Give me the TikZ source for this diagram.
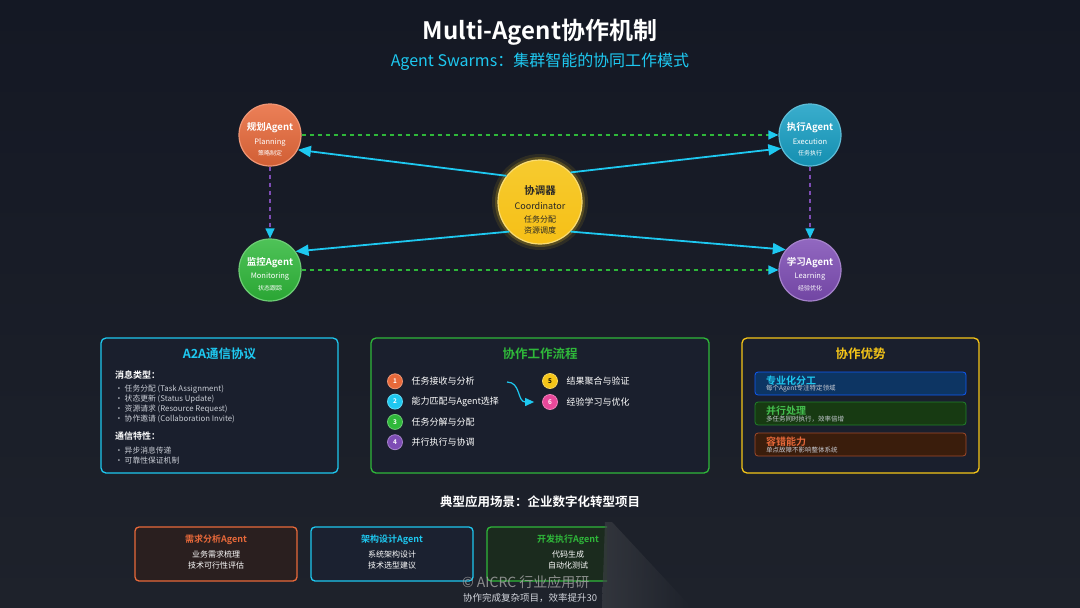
\documentclass[tikz,border=0pt]{standalone}
\usepackage{fontspec}
\setmainfont{Noto Sans CJK SC}[BoldFont={Noto Sans CJK SC Bold}]
\usetikzlibrary{arrows.meta,positioning}

\definecolor{bgtop}{HTML}{141824}
\definecolor{bgbot}{HTML}{1E222B}
\definecolor{panel}{HTML}{1A1F2D}
\definecolor{cyanA}{HTML}{1EC8F0}
\definecolor{tealA}{HTML}{179FC4}
\definecolor{orangeA}{HTML}{E8693A}
\definecolor{greenA}{HTML}{2FB83A}
\definecolor{purpleA}{HTML}{7E4DB5}
\definecolor{yellowA}{HTML}{F5C518}
\definecolor{pinkA}{HTML}{E8489A}
\definecolor{softtext}{HTML}{C9CDD5}
\definecolor{advblue}{HTML}{0D3563}
\definecolor{advgreen}{HTML}{173A12}
\definecolor{advbrown}{HTML}{3A1D0C}
\definecolor{usebrown}{HTML}{2A1F1F}
\definecolor{useblue}{HTML}{1B2130}
\definecolor{usegreen}{HTML}{1B2B1E}

\newcommand{\fsz}[2]{\fontsize{#1}{#2}\selectfont}
\newcommand{\AgentSize}{62pt}

\tikzset{
	agent/.style={circle, minimum size=\AgentSize, inner sep=0pt, draw=#1!70!white, line width=1.2pt, top color=#1!85!white, bottom color=#1!90!black},
	agtitle/.style={text=white, font=\fsz{9.5}{11}\bfseries, inner sep=0pt},
	agsub/.style={text=white, font=\fsz{7.5}{9}, inner sep=0pt},
	agnote/.style={text=white, font=\fsz{6}{7}, inner sep=0pt},
	link/.style={cyanA, line width=1.8pt, -{Triangle[length=13pt,width=11pt]}},
	peer/.style={draw=#1, line width=1.2pt, dash pattern=on 4pt off 4pt, -{Triangle[length=10pt,width=9pt,color=cyanA]}},
	panelbox/.style={draw=#1, line width=1.3pt, rounded corners=5pt, fill=panel, minimum height=135pt, inner sep=0pt},
	pantitle/.style={font=\fsz{12.5}{15}\bfseries, inner sep=0pt},
	headline/.style={anchor=west, text=white, font=\fsz{9}{11}\bfseries, inner sep=0pt},
	bullet/.style={anchor=west, text=softtext, font=\fsz{7.8}{9}, inner sep=0pt},
	stepdot/.style={circle, minimum size=15pt, inner sep=0pt, fill=#1, draw=#1!70!white, line width=.8pt, text=white, font=\fsz{6.5}{7}\bfseries},
	steptext/.style={text=white, font=\fsz{9}{11}, inner sep=0pt},
	advbox/.style 2 args={rounded corners=3pt, fill=#1, draw=#2, line width=.8pt, minimum width=211pt, minimum height=23pt, inner sep=0pt},
	advtitle/.style={anchor=west, font=\fsz{10}{12}\bfseries, inner sep=0pt},
	advnote/.style={anchor=west, text=softtext, font=\fsz{6.5}{7}, inner sep=0pt},
	usebox/.style 2 args={rounded corners=4pt, draw=#1, fill=#2, line width=1.3pt, minimum width=162pt, minimum height=54pt, inner sep=0pt},
	usetitle/.style={font=\fsz{9}{11}\bfseries, inner sep=0pt},
	usetext/.style={text=white, font=\fsz{8}{11}, align=center, inner sep=0pt}
}

\begin{document}
\begin{tikzpicture}[x=1pt,y=-1pt]
	\useasboundingbox (0,0) rectangle (1080,608);
	\shade[top color=bgtop, bottom color=bgbot] (0,0) rectangle (1080,608);

	\node[text=white, font=\fsz{24}{28}\bfseries] (title) at (540,32) {Multi-Agent协作机制};
	\node[text=cyanA, font=\fsz{16}{18}] (subtitle) at (540,62) {Agent Swarms：集群智能的协同工作模式};

	\fill[yellowA, opacity=.1] (540,202) circle (48pt);
	\fill[yellowA, opacity=.22] (540,202) circle (45pt);
	\node[circle, minimum size=84pt, inner sep=0pt, top color=yellowA!90!white, bottom color=yellowA!92!orange, draw=yellowA!60!white, line width=1.2pt] (coord) at (540,202) {};
	\node[text=black!85, font=\fsz{10.5}{12}\bfseries, inner sep=0pt] at ([yshift=11pt]coord.center) {协调器};
	\node[text=black!85, font=\fsz{9}{10}, inner sep=0pt] at ([yshift=-4pt]coord.center) {Coordinator};
	\node[text=black!85, font=\fsz{8}{11}, align=center, inner sep=0pt] at ([yshift=-23pt]coord.center) {任务分配\\资源调度};

	\foreach \nm/\cl/\px/\py/\ttl/\en/\cn in {plan/orangeA/270/135/规划Agent/Planning/策略制定, exec/tealA/810/135/执行Agent/Execution/任务执行, mon/greenA/270/270/监控Agent/Monitoring/状态跟踪, learn/purpleA/810/270/学习Agent/Learning/经验优化} {
		\node[agent=\cl] (\nm) at (\px,\py) {};
		\node[agtitle] at ([yshift=7pt]\nm.center) {\ttl};
		\node[agsub] at ([yshift=-7pt]\nm.center) {\en};
		\node[agnote] at ([yshift=-18pt]\nm.center) {\cn};
	}

	\draw[peer=greenA] (plan) -- (exec);
	\draw[peer=greenA] (mon) -- (learn);
	\draw[peer=purpleA] (plan) -- (mon);
	\draw[peer=purpleA] (exec) -- (learn);
	\draw[link] (coord.142) -- (plan.-28);
	\draw[link] (coord.44) -- (exec.205);
	\draw[link] (coord.224) -- (mon.36);
	\draw[link] (coord.316) -- (learn.140);

	\node[panelbox=cyanA, minimum width=237pt] (proto) at (219.5,405.5) {};
	\node[pantitle, text=cyanA] at (219.5,354) {A2A通信协议};
	\node[headline] (msgtype) at (115,375) {消息类型：};
	\foreach \ln [count=\i] in {任务分配 (Task Assignment), 状态更新 (Status Update), 资源请求 (Resource Request), 协作邀请 (Collaboration Invite)}
		\node[bullet] at (115,379+10*\i) {• \ln};
	\node[headline] (feature) at (115,436) {通信特性：};
	\foreach \ln [count=\i] in {异步消息传递, 可靠性保证机制}
		\node[bullet] at (115,441+10*\i) {• \ln};

	\node[panelbox=greenA, minimum width=338pt] (flow) at (540,405.5) {};
	\node[pantitle, text=greenA] at (540,354) {协作工作流程};
	\foreach \cl/\txt [count=\i] in {orangeA/任务接收与分析, cyanA/能力匹配与Agent选择, greenA/任务分解与分配, purpleA/并行执行与协调} {
		\node[stepdot=\cl] (s\i) at (395,361+20.3*\i) {\i};
		\node[steptext, right=8.5pt of s\i] {\txt};
	}
	\node[stepdot=yellowA, text=black] (s5) at (550,381) {5};
	\node[steptext, right=8.5pt of s5] {结果聚合与验证};
	\node[stepdot=pinkA] (s6) at (550,402) {6};
	\node[steptext, right=8.5pt of s6] {经验学习与优化};
	\coordinate (turn) at (507,382);
	\draw[cyanA, line width=1.2pt, -{Triangle[length=9pt,width=8pt]}] (turn) .. controls (521,382) and (517,402) .. ([xshift=-8pt]s6.west);

	\node[panelbox=yellowA, minimum width=237pt] (adv) at (860.5,405.5) {};
	\node[pantitle, text=yellowA] at (860.5,354) {协作优势};
	\foreach \y/\fc/\dc/\tc/\ttl/\txt [count=\i] in {383.5/advblue/cyanA!45!blue/cyanA/专业化分工/每个Agent专注特定领域, 413.5/advgreen/greenA!70!black/greenA!90!white/并行处理/多任务同时执行，效率倍增, 444.5/advbrown/orangeA!70!black/orangeA/容错能力/单点故障不影响整体系统} {
		\node[advbox={\fc}{\dc}] (adv\i) at (860.5,\y) {};
		\node[advtitle, text=\tc] at (766,\y-2.5) {\ttl};
		\node[advnote] at (766,\y+5.5) {\txt};
	}

	\node[text=white, font=\fsz{12.5}{15}\bfseries] (scene) at (540,502) {典型应用场景：企业数字化转型项目};

	\begin{scope}
		\clip (0,0) rectangle (607,608);
		\foreach \nm/\x/\cl/\fc/\ttl/\la/\lb in {req/216/orangeA/usebrown/需求分析Agent/业务需求梳理/技术可行性评估, arch/392/cyanA/useblue/架构设计Agent/系统架构设计/技术选型建议, dev/568/greenA/usegreen/开发执行Agent/代码生成/自动化测试} {
			\node[usebox={\cl}{\fc}] (\nm) at (\x,554) {};
			\node[usetitle, text=\cl] at (\x,540) {\ttl};
			\node[usetext] at (\x,559.5) {\la\\\lb};
		}
		\node[anchor=west, text=gray!75, opacity=.85, font=\fsz{14}{16}, inner sep=0pt] (mark) at (462,582) {© AICRC 行业应用研};
		\node[anchor=west, text=softtext!85, font=\fsz{9.5}{11}, inner sep=0pt] (result) at (463,598) {协作完成复杂项目，效率提升30};
	\end{scope}
	\shade[left color=gray!35!bgbot, right color=bgbot, opacity=.6] (605,522) -- (612,522) -- (692,608) -- (602,608) -- cycle;
\end{tikzpicture}
\end{document}
